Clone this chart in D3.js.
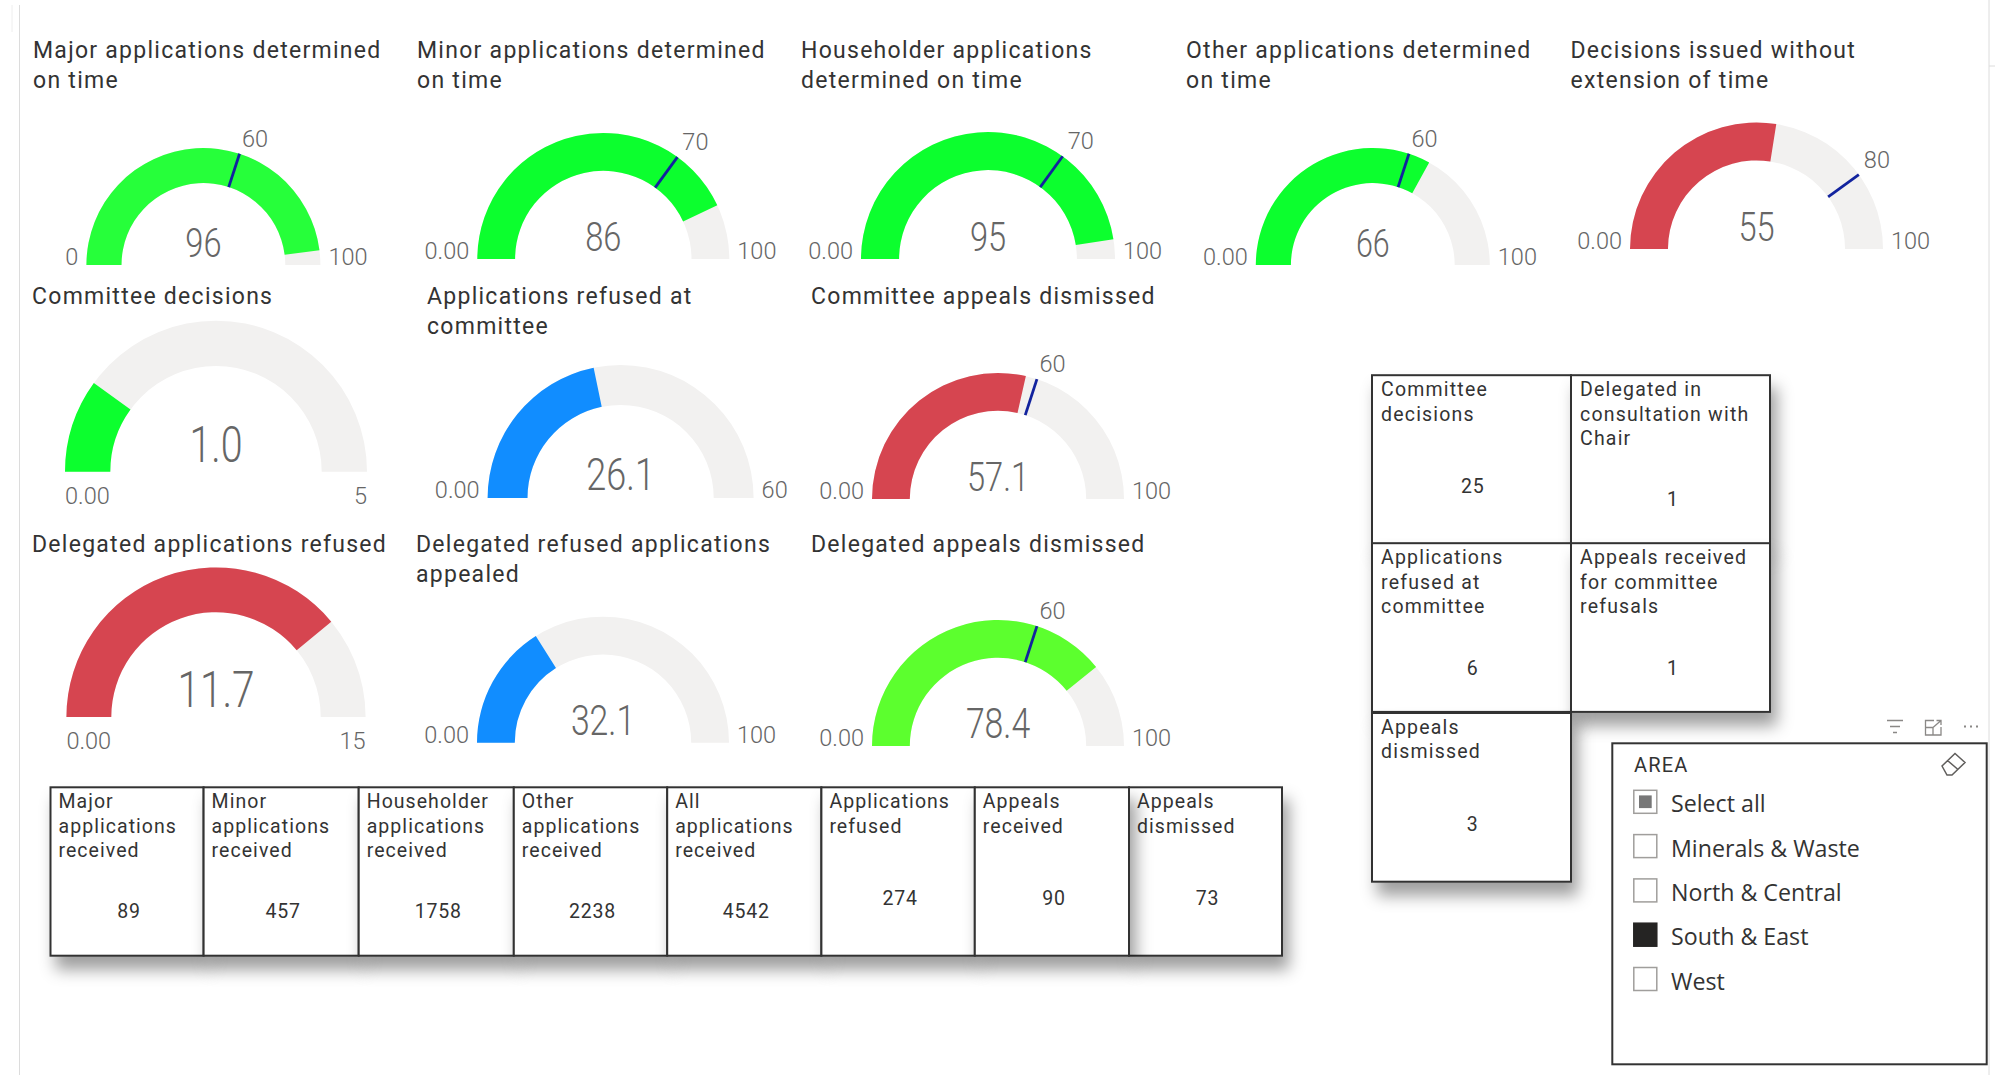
<!DOCTYPE html>
<html>
<head>
<meta charset="utf-8">
<script src="https://d3js.org/d3.v7.min.js"></script>
<style>
	html, body { margin: 0; padding: 0; background: #fff; }
	svg { display: block; }
</style>
</head>
<body>
<div id="chart"></div>
<script>
// Gauge data
const gaugeTitles = [
	["Major applications determined", "on time"],
	["Minor applications determined", "on time"],
	["Householder applications", "determined on time"],
	["Other applications determined", "on time"],
	["Decisions issued without", "extension of time"],
	["Committee decisions"],
	["Applications refused at", "committee"],
	["Committee appeals dismissed"],
	["Delegated applications refused"],
	["Delegated refused applications", "appealed"],
	["Delegated appeals dismissed"],
]
const gaugeValues = [96, 86, 95, 66, 55, 1.0, 26.1, 57.1, 11.7, 32.1, 78.4]
const gaugeValueLabels = ["96", "86", "95", "66", "55", "1.0", "26.1", "57.1", "11.7", "32.1", "78.4"]
const gaugeMinLabels = ["0", "0.00", "0.00", "0.00", "0.00", "0.00", "0.00", "0.00", "0.00", "0.00", "0.00"]
const gaugeMaxes = [100, 100, 100, 100, 100, 5, 60, 100, 15, 100, 100]
const gaugeTargets = [60, 70, 70, 60, 80, null, null, 60, null, null, 60]

// Card data
const rowCardTitles = [
	["Major", "applications", "received"],
	["Minor", "applications", "received"],
	["Householder", "applications", "received"],
	["Other", "applications", "received"],
	["All", "applications", "received"],
	["Applications", "refused"],
	["Appeals", "received"],
	["Appeals", "dismissed"],
]
const rowCardValues = [89, 457, 1758, 2238, 4542, 274, 90, 73]
const gridCardTitles = [
	["Committee", "decisions"],
	["Delegated in", "consultation with", "Chair"],
	["Applications", "refused at", "committee"],
	["Appeals received", "for committee", "refusals"],
	["Appeals", "dismissed"],
]
const gridCardValues = [25, 1, 6, 1, 3]

// Slicer data
const slicerTitle = "AREA"
const slicerItems = ["Select all", "Minerals & Waste", "North & Central", "South & East", "West"]
const slicerStates = ["partial", "off", "off", "on", "off"]

// Layout and styling, same order as the gauge arrays
const gaugeLayout = [
	{ cx: 203.4, r: 117, base: 265, titleX: 33, titleY: 58, size: 29, colour: "#26ff3a" },
	{ cx: 603.3, r: 126, base: 259, titleX: 417, titleY: 58, size: 29, colour: "#0cff2e" },
	{ cx: 988, r: 127, base: 259, titleX: 801, titleY: 58, size: 29, colour: "#0cff2e" },
	{ cx: 1372.8, r: 117, base: 265, titleX: 1186, titleY: 58, size: 27, colour: "#0cff2e" },
	{ cx: 1756.5, r: 126.5, base: 249, titleX: 1570.5, titleY: 58, size: 29, colour: "#d64550" },
	{ cx: 216, r: 151, base: 471.7, titleX: 32, titleY: 304, size: 35, colour: "#0cff2e", below: true },
	{ cx: 620.6, r: 133, base: 498, titleX: 427, titleY: 304, size: 32, colour: "#118dff" },
	{ cx: 998, r: 126, base: 499, titleX: 811, titleY: 304, size: 29, colour: "#d64550" },
	{ cx: 216, r: 149.6, base: 717, titleX: 32, titleY: 552, size: 36, colour: "#d64550", below: true },
	{ cx: 603, r: 126, base: 742.7, titleX: 416, titleY: 552, size: 30, colour: "#118dff" },
	{ cx: 998, r: 126, base: 746, titleX: 811, titleY: 552, size: 30, colour: "#5cff2e" },
]
const rowCardEdges = [50.5, 203.6, 358.7, 513.8, 667.2, 821.4, 974.8, 1129, 1282]
const gridCardBoxes = [
	{ x: 1372, y: 375.2, valueX: 1472.7, valueY: 492.6 },
	{ x: 1571, y: 375.2, valueX: 1673, valueY: 506.3 },
	{ x: 1372, y: 543.2, valueX: 1472.7, valueY: 675 },
	{ x: 1571, y: 543.2, valueX: 1673, valueY: 675 },
	{ x: 1372, y: 713, valueX: 1472.7, valueY: 831 },
]

const width = 1995
const height = 1075
const din = "Roboto, sans-serif"
const textColour = "#333"
const labelColour = "#666"

const svg = d3.select("#chart").append("svg")
	.attr("width", width)
	.attr("height", height)

const shadow = svg.append("defs").append("filter")
	.attr("id", "cardShadow")
	.attr("x", "-30%")
	.attr("y", "-30%")
	.attr("width", "170%")
	.attr("height", "170%")
shadow.append("feDropShadow")
	.attr("dx", 6)
	.attr("dy", 13)
	.attr("stdDeviation", 8)
	.attr("flood-color", "#000")
	.attr("flood-opacity", 0.38)

// Page edges
const edges = svg.append("g")
	.attr("stroke", "#dcdcdc")
	.attr("fill", "none")
edges.append("path").attr("d", "M19.5,5V1075")
edges.append("path").attr("d", "M12,5V32").attr("stroke", "#eee")
edges.append("path").attr("d", "M1989,0V1075M1989,66H1995")

function squeezed(parent, x, y, text, size, opts = {}) {
	// Original font is narrower than anything installed, squeeze it horizontally
	return parent.append("text")
		.attr("transform", `translate(${x},${y}) scale(${opts.sx || 0.8},1)`)
		.attr("text-anchor", opts.anchor || "middle")
		.attr("font-family", din)
		.attr("font-weight", opts.weight || 300)
		.attr("font-size", size)
		.attr("fill", labelColour)
		.text(text)
}

function drawGauge(parent, i) {
	const layout = gaugeLayout[i]
	const g = parent.append("g").attr("class", "gauge")
	const max = gaugeMaxes[i]
	const angle = d3.scaleLinear()
		.domain([0, max])
		.range([-Math.PI / 2, Math.PI / 2])
	const arc = d3.arc()
		.innerRadius(layout.r * 0.7)
		.outerRadius(layout.r)

	g.selectAll("text.title")
		.data(gaugeTitles[i])
		.join("text")
		.attr("class", "title")
		.attr("x", layout.titleX)
		.attr("y", (d, j) => layout.titleY + j * 30)
		.attr("font-family", din)
		.attr("font-size", 23)
		.attr("letter-spacing", 1.27)
		.attr("fill", textColour)
		.text(d => d)

	const body = g.append("g")
		.attr("transform", `translate(${layout.cx},${layout.base})`)
	body.append("path")
		.attr("d", arc({ startAngle: angle(0), endAngle: angle(max) }))
		.attr("fill", "#f2f1f0")
	body.append("path")
		.attr("d", arc({ startAngle: angle(0), endAngle: angle(gaugeValues[i]) }))
		.attr("fill", layout.colour)

	const target = gaugeTargets[i]
	if (target !== null) {
		const a = angle(target)
		const [sin, cos] = [Math.sin(a), Math.cos(a)]
		const tipX = sin * layout.r
		const tipY = -cos * layout.r
		body.append("line")
			.attr("x1", sin * layout.r * 0.7)
			.attr("y1", -cos * layout.r * 0.7)
			.attr("x2", tipX)
			.attr("y2", tipY)
			.attr("stroke", "#12239e")
			.attr("stroke-width", 2.8)
		squeezed(body, tipX + (target >= 70 ? 5 : 2.5), tipY - 7, target, 24, { anchor: "start", sx: 0.98 })
	}

	squeezed(body, 0, layout.below ? -10 : -8, gaugeValueLabels[i], layout.size / 0.711)

	// Min/max labels sit beside the arc, or under it on the two big gauges
	const minX = layout.below ? -layout.r : -layout.r - 8
	const maxX = layout.below ? layout.r : layout.r + 8
	const labelY = layout.below ? 32 : 0
	squeezed(body, minX, labelY, gaugeMinLabels[i], 24, { anchor: layout.below ? "start" : "end", sx: 0.98 })
	squeezed(body, maxX, labelY, max, 24, { anchor: layout.below ? "end" : "start", sx: 0.98 })
}

gaugeValues.forEach((_, i) => drawGauge(svg, i))

function drawCard(parent, box, title, value) {
	const g = parent.append("g").attr("class", "card")
	g.append("rect")
		.attr("x", box.x)
		.attr("y", box.y)
		.attr("width", box.w)
		.attr("height", box.h)
		.attr("fill", "#fff")
		.attr("stroke", "#333")
		.attr("stroke-width", 2)
		.attr("filter", "url(#cardShadow)")
	g.selectAll("text.cardTitle")
		.data(title)
		.join("text")
		.attr("class", "cardTitle")
		.attr("x", box.x + box.inset)
		.attr("y", (d, j) => box.y + 20.5 + j * 24.8)
		.attr("font-family", din)
		.attr("font-size", 19.5)
		.attr("letter-spacing", box.tracking)
		.attr("fill", textColour)
		.text(d => d)
	g.append("text")
		.attr("x", box.valueX)
		.attr("y", box.valueY)
		.attr("text-anchor", "middle")
		.attr("font-family", din)
		.attr("font-size", 19.5)
		.attr("letter-spacing", 0.8)
		.attr("fill", textColour)
		.text(value)
}

// Last card of the row sits under its neighbour's shadow, so it goes first
const rowOrder = [7, 0, 1, 2, 3, 4, 5, 6]
rowOrder.forEach(i => {
	const x = rowCardEdges[i]
	const w = rowCardEdges[i + 1] - x
	drawCard(svg, {
		x: x,
		y: 787.3,
		w: w,
		h: 168.4,
		inset: 8,
		tracking: 1.05,
		valueX: x + w / 2 + 2,
		valueY: rowCardTitles[i].length === 3 ? 918 : 905,
	}, rowCardTitles[i], rowCardValues[i])
})

gridCardBoxes.forEach((b, i) => {
	drawCard(svg, {
		x: b.x,
		y: b.y,
		w: 199,
		h: 168.7,
		inset: 9,
		tracking: 1.2,
		valueX: b.valueX,
		valueY: b.valueY,
	}, gridCardTitles[i], gridCardValues[i])
})

// Slicer
const slicer = svg.append("g").attr("class", "slicer")
slicer.append("rect")
	.attr("x", 1612.3)
	.attr("y", 743.3)
	.attr("width", 374.4)
	.attr("height", 321)
	.attr("fill", "#fff")
	.attr("stroke", "#333")
	.attr("stroke-width", 2)
slicer.append("text")
	.attr("x", 1634)
	.attr("y", 771.7)
	.attr("font-family", din)
	.attr("font-size", 20)
	.attr("letter-spacing", 1.2)
	.attr("fill", textColour)
	.text(slicerTitle)

const slicerY = d3.scalePoint()
	.domain(slicerItems)
	.range([801.8, 979])

const items = slicer.selectAll("g.item")
	.data(slicerItems)
	.join("g")
	.attr("class", "item")
	.attr("transform", d => `translate(0,${slicerY(d)})`)
items.append("rect")
	.attr("x", 1633.8)
	.attr("y", -11.5)
	.attr("width", 23)
	.attr("height", 23)
	.attr("fill", (d, i) => slicerStates[i] === "on" ? "#252423" : "#fff")
	.attr("stroke", (d, i) => slicerStates[i] === "on" ? "#252423" : "#a09e9c")
	.attr("stroke-width", 1.5)
items.filter((d, i) => slicerStates[i] === "partial").append("rect")
	.attr("x", 1639)
	.attr("y", -6.4)
	.attr("width", 12.7)
	.attr("height", 12.7)
	.attr("fill", "#777")
items.append("text")
	.attr("x", 1671)
	.attr("y", 10.5)
	.attr("font-family", "'Open Sans', sans-serif")
	.attr("font-size", 23.2)
	.attr("fill", textColour)
	.text(d => d)

// Eraser in the slicer header
slicer.append("path")
	.attr("d", "M1942,766L1955,753.5L1965,762.5L1952,775H1947ZM1947.5,760.5L1958,769.5")
	.attr("fill", "none")
	.attr("stroke", "#605e5c")
	.attr("stroke-width", 1.5)

// Visual header icons
const header = svg.append("g")
	.attr("fill", "none")
	.attr("stroke", "#8a8886")
	.attr("stroke-width", 1.3)
header.append("path").attr("d", "M1887,720.5H1903M1890,726.5H1900M1893,732.5H1897")
header.append("path").attr("d", "M1934,720.5H1925.5V735H1941V727M1933,727.5L1941,720.5M1936.5,720.5H1941V725M1925.5,727.5H1933V735")
header.append("path")
	.attr("d", "M1964,726.5h2M1970,726.5h2M1976,726.5h2")
	.attr("stroke-width", 2.2)
</script>
</body>
</html>
